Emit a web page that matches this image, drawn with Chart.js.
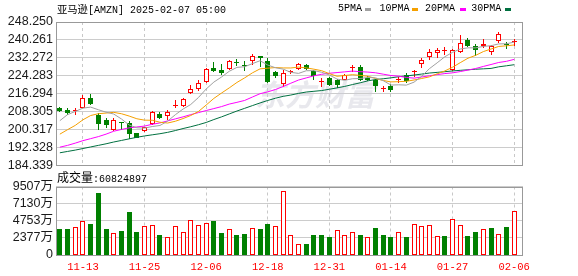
<!DOCTYPE html>
<html>
<head>
<meta charset="utf-8">
<title>亚马逊 AMZN</title>
<script src="https://cdn.jsdelivr.net/npm/chart.js@4.4.1/dist/chart.umd.min.js"></script>
<style>
    html, body { margin: 0; padding: 0; background: #fff; }
    #wrap { position: relative; width: 578px; height: 276px; overflow: hidden; }
    #wrap canvas { position: absolute; left: 0; }
    .lbl { position: absolute; white-space: nowrap; color: #000; font: 10px/12px "Liberation Mono", "Noto Sans CJK SC", monospace; }
    .cjk { font-family: "Noto Sans CJK SC", sans-serif; }
    .dash { position: absolute; top: 8px; width: 6px; height: 3px; }
</style>
</head>
<body>
<div id="wrap">
    <canvas id="price" width="578" height="176" style="top:0"></canvas>
    <canvas id="volume" width="578" height="100" style="top:176px"></canvas>
    <div class="lbl" id="title" style="left:57px;top:3px"></div>
    <div id="legend"></div>
    <div class="lbl" id="volLabel" style="left:57px;top:171px"></div>
</div>
<script>
/* ── data ───────────────────────────────────────────── */
const dates = ['11-08', '11-11', '11-12', '11-13', '11-14', '11-15', '11-18', '11-19', '11-20', '11-21',
    '11-22', '11-25', '11-26', '11-27', '11-29', '12-02', '12-03', '12-04', '12-05', '12-06',
    '12-09', '12-10', '12-11', '12-12', '12-13', '12-16', '12-17', '12-18', '12-19', '12-20',
    '12-23', '12-24', '12-26', '12-27', '12-30', '12-31', '01-02', '01-03', '01-06', '01-07',
    '01-08', '01-10', '01-13', '01-14', '01-15', '01-16', '01-17', '01-21', '01-22', '01-23',
    '01-24', '01-27', '01-28', '01-29', '01-30', '01-31', '02-03', '02-04', '02-05', '02-06'];

const opens = [209.9, 208.9, 208.7, 209.9, 214.4, 206.7, 204.6, 200.0, 203.7, 203.4,
    198.7, 199.5, 202.6, 207.4, 206.5, 210.8, 210.8, 216.6, 218.5, 221.5,
    227.7, 227.0, 227.2, 230.4, 228.9, 230.9, 232.9, 230.9, 225.8, 220.6,
    226.0, 227.4, 229.3, 226.6, 221.6, 223.4, 222.5, 222.6, 227.6, 228.4,
    223.5, 222.5, 218.2, 219.8, 222.6, 224.7, 226.0, 229.5, 232.6, 234.4,
    235.2, 226.9, 235.1, 240.3, 237.6, 237.5, 234.8, 240.0, 238.3, 239.2];
const highs = [210.5, 210.0, 210.0, 215.9, 216.4, 207.7, 205.5, 205.5, 203.8, 204.0,
    198.9, 201.7, 208.8, 208.2, 209.2, 213.6, 214.5, 220.3, 222.5, 227.6,
    230.6, 229.5, 231.5, 231.7, 230.9, 233.9, 232.9, 232.0, 226.6, 227.0,
    227.0, 229.9, 229.6, 227.0, 223.5, 223.6, 222.8, 225.2, 229.2, 229.2,
    224.3, 222.8, 219.6, 220.8, 223.7, 225.5, 227.0, 232.1, 236.3, 236.6,
    237.3, 236.3, 242.6, 241.0, 238.5, 240.7, 238.0, 244.0, 239.2, 240.7];
const lows = [208.2, 207.0, 206.7, 209.9, 211.4, 200.0, 201.1, 199.6, 200.0, 196.3,
    196.7, 199.3, 202.2, 205.1, 204.8, 209.8, 210.5, 216.4, 217.3, 221.2,
    226.2, 224.7, 227.0, 228.7, 226.5, 229.2, 228.4, 221.0, 223.3, 219.5,
    224.9, 227.0, 226.9, 222.5, 219.5, 219.6, 219.0, 222.3, 225.8, 222.0,
    222.1, 216.9, 216.9, 217.2, 221.0, 221.0, 223.7, 227.7, 231.4, 232.1,
    233.6, 226.6, 234.6, 237.0, 233.2, 236.6, 233.6, 238.8, 236.3, 237.7];
const closes = [208.8, 207.7, 208.9, 214.4, 211.9, 203.0, 202.2, 204.8, 203.4, 198.5,
    196.8, 201.5, 208.3, 205.7, 208.3, 211.0, 214.1, 218.4, 221.3, 227.2,
    226.4, 225.5, 231.1, 230.0, 228.6, 233.3, 232.0, 221.5, 224.0, 225.5,
    226.2, 229.6, 227.4, 224.3, 221.8, 220.2, 220.4, 224.7, 227.8, 222.3,
    222.5, 219.6, 218.4, 218.0, 222.9, 221.8, 226.2, 231.4, 235.1, 235.8,
    235.4, 236.0, 238.8, 237.7, 235.8, 238.5, 237.7, 242.8, 238.0, 239.5];

// volume in 万 (10k shares)
const volumes = [3635, 3635, 3868, 4707, 4334, 8622, 3635, 3029, 3355, 6012,
    3216, 4008, 4148, 2796, 2470, 4008, 3169, 4847, 4148, 4427,
    4754, 3076, 3588, 2796, 2936, 3728, 3635, 4334, 4008, 8901,
    2750, 1491, 1538, 2796, 2796, 2517, 3449, 2750, 3169, 2796,
    2470, 3775, 2796, 2517, 3169, 2517, 4288, 4008, 4148, 2610,
    2656, 4987, 4148, 2656, 3216, 3635, 3775, 2890, 3915, 6082.4897];

// MA values before the window fills up (earlier closes are off-chart)
const ma5Head = [204.3, 207.0, 208.4, 209.9];
const ma10Head = [198.3, 200.3, 202.2, 204.7, 206.6, 207.4, 207.7, 208.0, 207.4];
const ma20Head = [192.5, 193.3, 194.3, 195.4, 196.3, 197.2, 198.3, 199.6, 200.4, 201.1,
    201.5, 201.9, 202.7, 203.3, 204.2, 205.1, 206.0, 207.0, 207.9];
const ma30Head = [190.0, 190.6, 191.2, 191.9, 192.6, 193.3, 194.0, 194.8, 195.5, 196.2,
    196.9, 197.5, 198.0, 198.5, 199.1, 199.9, 200.8, 201.6, 202.5, 203.5,
    204.8, 206.0, 207.3, 208.6, 209.8, 211.0, 212.2, 213.3, 214.3];

const priceTicks = [184.339, 192.328, 200.317, 208.305, 216.294, 224.283, 232.272, 240.261, 248.250];
const volumeTicks = [0, 2377, 4753, 7130, 9507];
const dateTicks = ['11-13', '11-25', '12-06', '12-18', '12-31', '01-14', '01-27', '02-06'];
const maNames = ['5PMA', '10PMA', '20PMA', '30PMA'];

/* ── style ──────────────────────────────────────────── */
const UP = '#ff0000';
const DOWN = '#008000';
const MA_COLORS = ['#a0a0a0', '#f5a000', '#ff00ff', '#007040'];
const LABEL_FONT = '"Liberation Sans", "Noto Sans CJK SC", Arial, sans-serif';
const MONO = '"Liberation Mono", monospace';

Chart.defaults.animation = false;
Chart.defaults.plugins.legend.display = false;
Chart.defaults.plugins.tooltip.enabled = false;

function movingAvg(head, n) {
    return closes.map((c, i) => {
        if (i < head.length) return head[i];
        let s = 0;
        for (let k = i - n + 1; k <= i; k++) s += closes[k];
        return +(s / n).toFixed(2);
    });
}
const maSeries = [movingAvg(ma5Head, 5), movingAvg(ma10Head, 10), movingAvg(ma20Head, 20), movingAvg(ma30Head, 30)];

const isUp = i => closes[i] >= opens[i];
const candleColors = closes.map((c, i) => isUp(i) ? UP : DOWN);
const volUp = closes.map((c, i) => i === 0 ? c >= opens[0] : c >= closes[i - 1]);
const tickIdx = dateTicks.map(d => dates.indexOf(d));

// plot frame, watermark, and pixel snapping so 1px borders stay crisp
const frame = {
    id: 'frame',
    afterDatasetsDraw(chart) {
        const { ctx, chartArea: a } = chart;
        ctx.save();
        ctx.strokeStyle = '#999';
        ctx.lineWidth = 1;
        ctx.strokeRect(Math.round(a.left) + 0.5, Math.round(a.top) + 0.5, Math.round(a.width) - 1, Math.round(a.height) - 1);
        ctx.restore();
    }
};
const watermark = {
    id: 'watermark',
    beforeDatasetsDraw(chart) {
        const { ctx } = chart;
        ctx.save();
        ctx.font = 'italic bold 30px "Noto Sans CJK SC"';
        ctx.fillStyle = 'rgba(205,205,215,0.45)';
        ctx.textBaseline = 'middle';
        ctx.fillText('东方财富', 255, 95);
        ctx.restore();
    }
};
const snapBars = {
    id: 'snapBars',
    beforeDatasetsDraw(chart) {
        chart.getSortedVisibleDatasetMetas().forEach(meta => {
            if (meta.type !== 'bar') return;
            meta.data.forEach(el => {
                el.x = Math.floor(el.x) + 0.5;
                const top = Math.round(Math.min(el.y, el.base));
                let bottom = Math.round(Math.max(el.y, el.base));
                if (bottom - top < 1) bottom = top + 1;
                el.y = top;
                el.base = bottom;
            });
        });
    }
};

function xAxis(showLabels) {
    return {
        type: 'linear',
        offset: false,
        min: -0.5,
        max: dates.length + 0.15,
        afterBuildTicks: s => { s.ticks = tickIdx.map(v => ({ value: v })); },
        afterFit: s => { s.height = showLabels ? 21 : 0; },
        grid: { color: '#c8c8c8', drawTicks: false, offset: false },
        border: { display: false, dash: [3, 3] },
        ticks: {
            display: showLabels,
            color: UP,
            padding: 6,
            maxRotation: 0,
            autoSkip: false,
            font: { family: MONO, size: 10.5 },
            callback: v => dates[v]
        }
    };
}

function yAxis(ticks, fmt) {
    return {
        min: ticks[0],
        max: ticks[ticks.length - 1],
        afterBuildTicks: s => { s.ticks = ticks.map(v => ({ value: v })); },
        afterFit: s => { s.width = 56; },
        grid: { color: '#cccccc', drawTicks: false },
        border: { display: false },
        ticks: { padding: 3, autoSkip: false, color: '#1a1a1a', font: { family: LABEL_FONT, size: 12.5 }, callback: fmt }
    };
}

const barBase = {
    type: 'bar',
    grouped: false,
    barPercentage: 1,
    categoryPercentage: 1,
    borderSkipped: false,
    inflateAmount: 0
};

/* ── price (candles + MA) ───────────────────────────── */
new Chart(document.getElementById('price'), {
    type: 'bar',
    data: {
        datasets: [
            ...maSeries.map((s, k) => ({
                type: 'line',
                label: maNames[k],
                data: s.map((v, i) => ({ x: i, y: v })),
                borderColor: MA_COLORS[k],
                borderWidth: 1,
                pointRadius: 0,
                tension: 0,
                order: k
            })),
            {
                ...barBase,
                label: 'body',
                data: closes.map((c, i) => ({ x: i, y: [Math.min(opens[i], c), Math.max(opens[i], c)] })),
                backgroundColor: closes.map((c, i) => isUp(i) ? '#ffffff' : DOWN),
                borderColor: candleColors,
                borderWidth: 1,
                maxBarThickness: 5,
                minBarLength: 1,
                order: 5
            },
            {
                ...barBase,
                label: 'wick',
                data: closes.map((c, i) => ({ x: i, y: [lows[i], highs[i]] })),
                backgroundColor: candleColors,
                borderWidth: 0,
                maxBarThickness: 1,
                order: 6
            }
        ]
    },
    options: {
        responsive: false,
        devicePixelRatio: 1,
        layout: { padding: { top: 22, right: 55, bottom: 10, left: 0 } },
        scales: {
            x: xAxis(false),
            y: yAxis(priceTicks, v => v.toFixed(3))
        }
    },
    plugins: [watermark, snapBars, frame]
});

/* ── volume ─────────────────────────────────────────── */
new Chart(document.getElementById('volume'), {
    type: 'bar',
    data: {
        datasets: [{
            ...barBase,
            label: '成交量',
            data: volumes.map((v, i) => ({ x: i, y: v })),
            backgroundColor: volUp.map(u => u ? '#ffffff' : DOWN),
            borderColor: volUp.map(u => u ? UP : DOWN),
            borderWidth: 1,
            maxBarThickness: 5
        }]
    },
    options: {
        responsive: false,
        devicePixelRatio: 1,
        layout: { padding: { top: 10, right: 55, bottom: 0, left: 0 } },
        scales: {
            x: xAxis(true),
            y: yAxis(volumeTicks, v => v === 0 ? '0' : v + '万')
        }
    },
    plugins: [snapBars, frame]
});

/* ── texts ──────────────────────────────────────────── */
document.getElementById('title').innerHTML = '<span class="cjk" style="font-size:10.3px">亚马逊</span>[AMZN] 2025-02-07 05:00';
document.getElementById('volLabel').innerHTML = '<span class="cjk" style="font-size:12px">成交量</span>:' + Math.round(volumes[volumes.length - 1] * 10000);

const legendText = [338, 379.5, 425, 471.3];
const legendDash = [365, 412, 459.5, 505];
document.getElementById('legend').innerHTML = maNames.map((n, k) =>
    `<div class="lbl" style="left:${legendText[k]}px;top:3px">${n}</div>` +
    `<div class="dash" style="left:${legendDash[k]}px;background:${MA_COLORS[k]}"></div>`
).join('');
</script>
</body>
</html>
